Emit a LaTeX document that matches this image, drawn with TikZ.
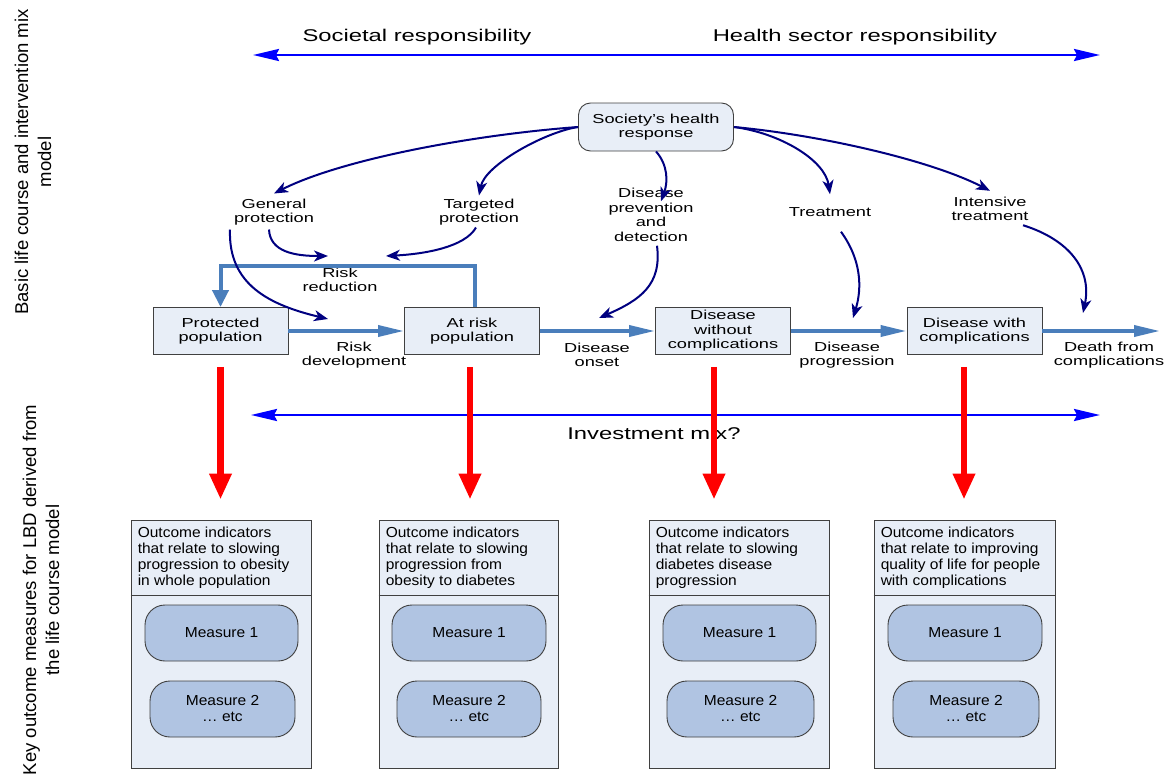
\documentclass[tikz,border=0pt]{standalone}
\usepackage{fontspec}
\setmainfont{Liberation Sans}
\newfontfamily\lblfont[FakeStretch=1.4]{Liberation Sans}
\newfontfamily\hdrfont[FakeStretch=1.07]{Liberation Sans}
\usetikzlibrary{arrows.meta}

\definecolor{navyc}{HTML}{000080}
\definecolor{flowc}{HTML}{4A7EBB}
\definecolor{boxfill}{HTML}{E8EEF7}
\definecolor{boxline}{HTML}{404040}
\definecolor{measfill}{HTML}{B0C4E2}
\definecolor{blueline}{HTML}{0000FF}
\definecolor{redc}{HTML}{FF0000}

\begin{document}
\begin{tikzpicture}[x=1pt,y=-1pt,
  lbl/.style={font=\lblfont\fontsize{13}{14.5}\selectfont, align=center, inner sep=1pt},
  stage/.style={lbl, draw=boxline, fill=boxfill, line width=0.9pt, minimum width=135pt, minimum height=47pt},
  socbox/.style={stage, rounded corners=12pt, minimum width=155pt, minimum height=48pt},
  toplbl/.style={font=\lblfont\fontsize{17}{19}\selectfont, inner sep=1pt},
  sidelbl/.style={font=\fontsize{18.5}{23}\selectfont, align=center, rotate=90, inner sep=0pt},
  outbox/.style={draw=boxline, fill=boxfill, line width=0.9pt, minimum height=248pt, inner sep=0pt},
  hdr/.style={font=\hdrfont\fontsize{14.5}{16}\selectfont, align=left, anchor=north west, inner sep=0pt},
  meas/.style={draw=boxline, fill=measfill, line width=0.9pt, rounded corners=20pt, minimum height=56pt,
    font=\hdrfont\fontsize{14.5}{16}\selectfont, align=center},
  span/.style={draw=blueline, line width=2.6pt,
    {Stealth[length=26pt,width=12pt,inset=3pt]}-{Stealth[length=26pt,width=12pt,inset=3pt]}},
  resp/.style={draw=navyc, line width=2pt, -{Stealth[length=14pt,width=11pt,inset=4pt]}},
  flow/.style={draw=flowc, line width=3.6pt, -{Triangle[length=26pt,width=11pt]}},
  feedback/.style={draw=flowc, line width=4pt, -{Triangle[length=17pt,width=16pt]}},
  outarrow/.style={draw=redc, line width=6.5pt, -{Triangle[length=26pt,width=21pt]},
    shorten <=12pt, shorten >=20pt},
]
\useasboundingbox (0,0) rectangle (1173,776);

% side captions
\node[sidelbl] (capA) at (33,162) {Basic life course and intervention mix\\model};
\node[sidelbl] (capB) at (41,590) {Key outcome measures for LBD derived from\\the life course model};

% responsibility span
\node[toplbl] (socl) at (417,37) {Societal responsibility};
\node[toplbl] (hsl) at (855,37) {Health sector responsibility};
\coordinate (spanL) at (253,55);
\coordinate (spanR) at (1100,55);
\draw[span] (spanL) -- (spanR);

% society response and intervention labels
\node[socbox] (shr) at (656,127) {Society’s health\\response};
\node[lbl] (gp) at (274,212) {General\\protection};
\node[lbl] (tp) at (479,212) {Targeted\\protection};
\node[lbl] (dpd) at (651,215) {Disease\\prevention\\and\\detection};
\node[lbl] (trt) at (830,212) {Treatment};
\node[lbl] (itr) at (990,209) {Intensive\\treatment};
\node[lbl] (rr) at (340,280) {Risk\\reduction};

% life course stages
\node[stage] (pp) at (220.5,331) {Protected\\population};
\node[stage] (ar) at (472,331) {At risk\\population};
\node[stage] (dwo) at (723,331) {Disease\\without\\complications};
\node[stage] (dw) at (974.5,331) {Disease with\\complications};
\coordinate (death) at (1160,331);

% transition labels
\node[lbl] (rd) at (354,355) {Risk\\development};
\node[lbl] (don) at (597,355) {Disease\\onset};
\node[lbl] (dpr) at (847,355) {Disease\\progression};
\node[lbl] (dfc) at (1109,355) {Death from\\complications};

% transitions
\draw[flow] (pp.east) -- (ar.west);
\draw[flow] (ar.east) -- (dwo.west);
\draw[flow] (dwo.east) -- (dw.west);
\draw[flow] (dw.east) -- (death);
\draw[feedback] ([xshift=3pt]ar.north) -- ++(0,-41) -| (pp.north);

% intervention targets
\coordinate (rrL) at (328,256);
\coordinate (rrR) at (386,256);
\coordinate (rdIn) at (328,319);
\coordinate (donIn) at (599,318);
\coordinate (dprIn) at (853,318);
\coordinate (dfcIn) at (1083,313);

\draw[resp] (shr.west) .. controls (470,135) and (340,160) .. ([yshift=4pt]gp.north);
\draw[resp] (shr.west) .. controls (545,132) and (485,165) .. ([yshift=2pt]tp.north);
\draw[resp] (shr.south) .. controls (668,165) and (668,182) .. ([xshift=10pt,yshift=-14pt]dpd.north);
\draw[resp] (shr.east) .. controls (780,133) and (825,160) .. ([yshift=12pt]trt.north);
\draw[resp] (shr.east) .. controls (820,135) and (930,160) .. ([yshift=5pt]itr.north);
\draw[resp] ([xshift=-5pt,yshift=-3pt]gp.south) .. controls (270,252) and (295,256) .. (rrL);
\draw[resp] ([xshift=-3pt,yshift=-1pt]tp.south) .. controls (465,247) and (425,254) .. (rrR);
\draw[resp] ([xshift=-44pt,yshift=-3pt]gp.south) .. controls (228,285) and (270,305) .. (rdIn);
\draw[resp] ([xshift=6pt,yshift=-3pt]dpd.south) .. controls (662,285) and (640,300) .. (donIn);
\draw[resp] ([xshift=11pt,yshift=-14pt]trt.south) .. controls (865,265) and (860,295) .. (dprIn);
\draw[resp] ([xshift=33pt,yshift=-3pt]itr.south) .. controls (1070,240) and (1092,270) .. (dfcIn);

% investment span
\node[toplbl] (invl) at (654,433) {Investment mix?};
\coordinate (invL) at (251,415);
\coordinate (invR) at (1100,415);
\draw[span] (invL) -- (invR);

% outcome panels
\node[outbox, minimum width=180pt] (ob1) at (221,644) {};
\node[outbox, minimum width=179pt] (ob2) at (468.5,644) {};
\node[outbox, minimum width=180pt] (ob3) at (739,644) {};
\node[outbox, minimum width=181pt] (ob4) at (964.5,644) {};
\foreach \b in {ob1,ob2,ob3,ob4}{
  \draw[draw=boxline, line width=0.9pt] ([yshift=-76pt]\b.north west) -- ([yshift=-76pt]\b.north east);
}

\node[hdr] (h1) at ([xshift=7pt,yshift=-7pt]ob1.north west) {Outcome indicators\\that relate to slowing\\progression to obesity\\in whole population};
\node[hdr] (h2) at ([xshift=7pt,yshift=-7pt]ob2.north west) {Outcome indicators\\that relate to slowing\\progression from\\obesity to diabetes};
\node[hdr] (h3) at ([xshift=7pt,yshift=-7pt]ob3.north west) {Outcome indicators\\that relate to slowing\\diabetes disease\\progression};
\node[hdr] (h4) at ([xshift=7pt,yshift=-7pt]ob4.north west) {Outcome indicators\\that relate to improving\\quality of life for people\\with complications};

\node[meas, minimum width=153pt] (m11) at (221.5,633) {Measure 1};
\node[meas, minimum width=145pt] (m12) at (222.5,709) {Measure 2\\… etc};
\node[meas, minimum width=154pt] (m21) at (469,633) {Measure 1};
\node[meas, minimum width=144pt] (m22) at (469,709) {Measure 2\\… etc};
\node[meas, minimum width=153pt] (m31) at (739.5,633) {Measure 1};
\node[meas, minimum width=147pt] (m32) at (740.5,709) {Measure 2\\… etc};
\node[meas, minimum width=154pt] (m41) at (965,633) {Measure 1};
\node[meas, minimum width=146pt] (m42) at (966,709) {Measure 2\\… etc};

% stages to outcome panels
\coordinate (o1s) at (pp.south);
\coordinate (o1e) at (o1s |- ob1.north);
\coordinate (o2s) at ([xshift=-2pt]ar.south);
\coordinate (o2e) at (o2s |- ob2.north);
\coordinate (o3s) at ([xshift=-9pt]dwo.south);
\coordinate (o3e) at (o3s |- ob3.north);
\coordinate (o4s) at ([xshift=-10.5pt]dw.south);
\coordinate (o4e) at (o4s |- ob4.north);
\draw[outarrow] (o1s) -- (o1e);
\draw[outarrow] (o2s) -- (o2e);
\draw[outarrow] (o3s) -- (o3e);
\draw[outarrow] (o4s) -- (o4e);

\end{tikzpicture}
\end{document}
